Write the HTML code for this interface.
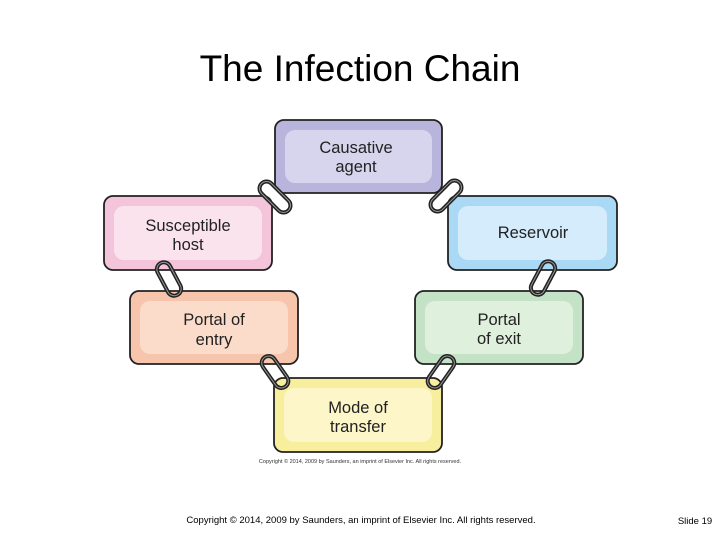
<!DOCTYPE html>
<html><head><style>
body{margin:0;background:#fff;width:720px;height:540px;overflow:hidden;font-family:"Liberation Sans",sans-serif}
</style></head><body>
<svg width="720" height="540" xmlns="http://www.w3.org/2000/svg" font-family="Liberation Sans, sans-serif">
<text x="360" y="81" font-size="37" text-anchor="middle" fill="#000">The Infection Chain</text>
<g stroke="#222" stroke-width="1.8">
<rect x="275" y="120" width="167" height="73" rx="9" fill="#b8b4dc"/>
<rect x="104" y="196" width="168" height="74" rx="9" fill="#f3c4da"/>
<rect x="448" y="196" width="169" height="74" rx="9" fill="#a9d9f4"/>
<rect x="130" y="291" width="168" height="73" rx="9" fill="#f6c5ab"/>
<rect x="415" y="291" width="168" height="73" rx="9" fill="#c4e2c6"/>
<rect x="274" y="378" width="168" height="74" rx="9" fill="#f7ee9e"/>
</g>
<g stroke="none">
<rect x="285" y="130" width="147" height="53" rx="10" fill="#d7d4ee"/>
<rect x="114" y="206" width="148" height="54" rx="10" fill="#fbe3ee"/>
<rect x="458" y="206" width="149" height="54" rx="10" fill="#d4ecfb"/>
<rect x="140" y="301" width="148" height="53" rx="10" fill="#fbdccb"/>
<rect x="425" y="301" width="148" height="53" rx="10" fill="#dff0dc"/>
<rect x="284" y="388" width="148" height="54" rx="10" fill="#fcf6c8"/>
</g>
<g font-size="16.5" fill="#222" text-anchor="middle">
<text x="356" y="153">Causative</text><text x="356" y="172">agent</text>
<text x="188" y="231">Susceptible</text><text x="188" y="250">host</text>
<text x="533" y="238">Reservoir</text>
<text x="214" y="325">Portal of</text><text x="214" y="345">entry</text>
<text x="499" y="325">Portal</text><text x="499" y="344">of exit</text>
<text x="358" y="413">Mode of</text><text x="358" y="432">transfer</text>
</g>
<g fill="none">
<g transform="translate(275,197) rotate(45)"><rect x="-19" y="-7" width="38" height="14" rx="7" stroke="#222" stroke-width="4"/><rect x="-19" y="-7" width="38" height="14" rx="7" stroke="#999" stroke-width="1"/></g>
<g transform="translate(446,196) rotate(-45)"><rect x="-19" y="-7" width="38" height="14" rx="7" stroke="#222" stroke-width="4"/><rect x="-19" y="-7" width="38" height="14" rx="7" stroke="#999" stroke-width="1"/></g>
<g transform="translate(169,279) rotate(62)"><rect x="-18" y="-7" width="36" height="14" rx="7" stroke="#222" stroke-width="4"/><rect x="-18" y="-7" width="36" height="14" rx="7" stroke="#999" stroke-width="1"/></g>
<g transform="translate(543,278) rotate(-62)"><rect x="-18" y="-7" width="36" height="14" rx="7" stroke="#222" stroke-width="4"/><rect x="-18" y="-7" width="36" height="14" rx="7" stroke="#999" stroke-width="1"/></g>
<g transform="translate(275,372) rotate(55)"><rect x="-18" y="-7" width="36" height="14" rx="7" stroke="#222" stroke-width="4"/><rect x="-18" y="-7" width="36" height="14" rx="7" stroke="#999" stroke-width="1"/></g>
<g transform="translate(441,372) rotate(-55)"><rect x="-18" y="-7" width="36" height="14" rx="7" stroke="#222" stroke-width="4"/><rect x="-18" y="-7" width="36" height="14" rx="7" stroke="#999" stroke-width="1"/></g>
</g>
<text x="360" y="463" font-size="5.5" text-anchor="middle" fill="#333">Copyright © 2014, 2009 by Saunders, an imprint of Elsevier Inc. All rights reserved.</text>
<text x="361" y="523" font-size="9.5" text-anchor="middle" fill="#000">Copyright © 2014, 2009 by Saunders, an imprint of Elsevier Inc. All rights reserved.</text>
<text x="695" y="524" font-size="9.5" text-anchor="middle" fill="#000">Slide 19</text>
</svg>
</body></html>
